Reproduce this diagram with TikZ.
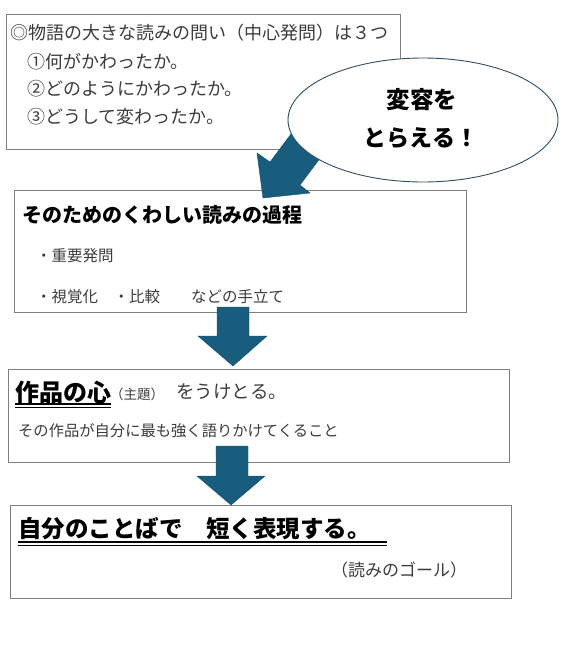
\documentclass[tikz,border=0pt]{standalone}
\usepackage{fontspec}
\setmainfont{Noto Sans CJK JP}
\newfontfamily\jpblack{Noto Sans CJK JP Black}
\usetikzlibrary{shapes.geometric}
\definecolor{arrowblue}{RGB}{24,92,126}
\definecolor{ellline}{RGB}{46,78,99}
\definecolor{boxgray}{RGB}{128,128,128}
\definecolor{txtgray}{RGB}{60,60,60}
\newcommand\myfs[1]{\fontsize{#1pt}{#1pt}\selectfont}
\begin{document}
\begin{tikzpicture}[x=1pt,y=-1pt,
  box/.style={draw=boxgray, line width=0.8pt, fill=white, anchor=north west, inner sep=0pt},
  txt/.style={anchor=west, inner sep=0pt, text=txtgray, font=\myfs{#1}},
  ttl/.style={anchor=west, inner sep=0pt, text=black, font=\myfs{#1}\jpblack},
  blockarrow/.style={fill=arrowblue, draw=arrowblue!85!black, line width=0.4pt},
  uthick/.style={line width=2pt, black},
  uthin/.style={line width=0.8pt, black}]
\useasboundingbox (0,0) rectangle (568,654);

% box 1
\node[box, minimum width=394pt, minimum height=135pt] (b1) at (6,14) {};
\node[txt=18] (t1a) at (10,33) {◎物語の大きな読みの問い（中心発問）は３つ};
\node[txt=18] (t1b) at (27,62) {①何がかわったか。};
\node[txt=18] (t1c) at (27,89) {②どのようにかわったか。};
\node[txt=18] (t1d) at (27,117) {③どうして変わったか。};

% box 2
\node[box, minimum width=452pt, minimum height=122pt] (b2) at (14,190) {};
\node[ttl=20] (t2) at (22,215) {そのためのくわしい読みの過程};
\node[txt=15.5] (t2a) at (36,256) {・重要発問};
\node[txt=15.5] (t2b) at (36,297) {・視覚化　・比較　　などの手立て};

% diagonal arrow
\draw[blockarrow] (306,114) -- (270,162) -- (257,153) -- (263,198) -- (310,193) -- (300,185) -- (336,137) -- cycle;

% ellipse
\node[ellipse, draw=ellline, line width=0.9pt, fill=white, minimum width=270pt, minimum height=124pt, inner sep=0pt] (el) at (423,120) {};
\node[ttl=23.5, anchor=center] (e1) at (422,100) {変容を};
\node[ttl=23, anchor=center] (e2) at (421,138) {とらえる！};

% box 3
\node[box, minimum width=501pt, minimum height=93pt] (b3) at (8,369) {};
\node[ttl=24] (t3a) at (15,392) {作品の心};
\node[txt=13.5] (t3b) at (110,394) {（主題）};
\node[txt=18.5] (t3c) at (176,392) {をうけとる。};
\node[txt=15.3] (t3d) at (18,431) {その作品が自分に最も強く語りかけてくること};
\coordinate (u3a) at (0,404);
\coordinate (u3b) at (0,407.3);
\draw[uthick] (t3a.west |- u3a) -- (t3a.east |- u3a);
\draw[uthin] (t3a.west |- u3b) -- (t3a.east |- u3b);

% arrow 1
\draw[blockarrow] (217,307) -- (249,307) -- (249,336) -- (267,336) -- (233,366) -- (198,336) -- (217,336) -- cycle;

% box 4
\node[box, minimum width=501pt, minimum height=93pt] (b4) at (10,505) {};
\node[ttl=23.5] (t4a) at (18,529) {自分のことばで　短く表現する。};
\node[txt=17] (t4b) at (331,570) {（読みのゴール）};
\coordinate (u4a) at (0,542);
\coordinate (u4b) at (0,545.3);
\draw[uthick] (t4a.west |- u4a) -- ([xshift=16pt]t4a.east |- u4a);
\draw[uthin] (t4a.west |- u4b) -- ([xshift=16pt]t4a.east |- u4b);

% arrow 2
\draw[blockarrow] (216,446) -- (248,446) -- (248,476) -- (265,476) -- (231,505) -- (197,476) -- (216,476) -- cycle;
\end{tikzpicture}
\end{document}
